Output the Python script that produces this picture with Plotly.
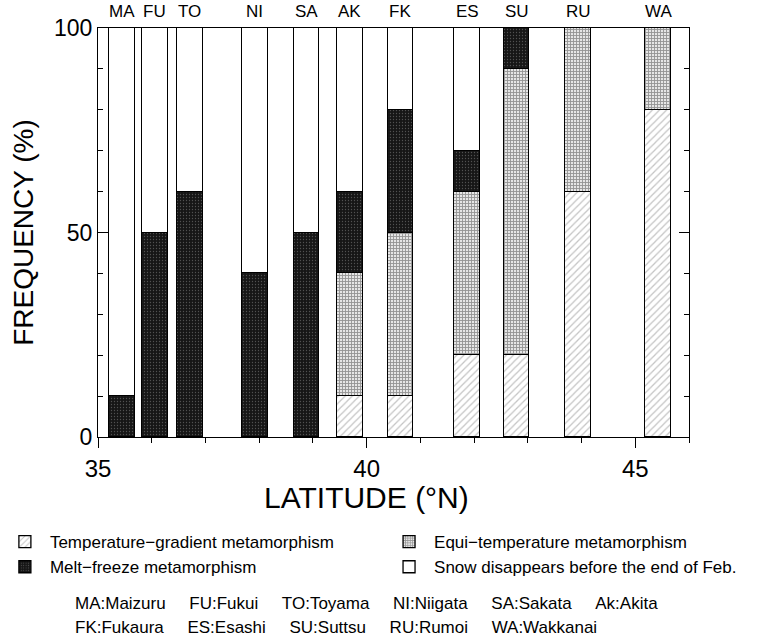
import plotly.graph_objects as go

# ---- data ----
stations = ["MA", "FU", "TO", "NI", "SA", "AK", "FK", "ES", "SU", "RU", "WA"]
latitude = [35.44, 36.06, 36.71, 37.92, 38.88, 39.69, 40.63, 41.87, 42.79, 43.94, 45.43]
temp_gradient = [0, 0, 0, 0, 0, 10, 10, 20, 20, 60, 80]
equi_temp = [0, 0, 0, 0, 0, 30, 40, 40, 70, 40, 20]
melt_freeze = [10, 50, 60, 40, 50, 20, 30, 10, 10, 0, 0]
snow_gone = [90, 50, 40, 60, 50, 40, 20, 30, 0, 0, 0]

series_names = [
    "Temperature\u2212gradient metamorphism",
    "Equi\u2212temperature metamorphism",
    "Melt\u2212freeze metamorphism",
    "Snow disappears before the end of Feb.",
]
legend_slot = ["legend", "legend2", "legend", "legend2"]
station_key_1 = ["MA:Maizuru", "FU:Fukui", "TO:Toyama", "NI:Niigata", "SA:Sakata", "Ak:Akita"]
station_key_2 = ["FK:Fukaura", "ES:Esashi", "SU:Suttsu", "RU:Rumoi", "WA:Wakkanai"]

FONT = "Liberation Sans, Arial, sans-serif"
BAR_W = 0.48

fig = go.Figure()

styles = [
    dict(color="white", pattern=dict(shape="/", fgcolor="#8a8a8a", bgcolor="white", size=5, solidity=0.25)),
    dict(color="white", pattern=dict(shape="+", fgcolor="#404040", bgcolor="#e6e6e6", size=3, solidity=0.5)),
    dict(color="#1c1c1c", pattern=dict(shape=".", fgcolor="#8c8c8c", bgcolor="#161616", size=3, solidity=0.15)),
    dict(color="white"),
]
for name, vals, st, lg in zip(series_names, [temp_gradient, equi_temp, melt_freeze, snow_gone],
                              styles, legend_slot):
    fig.add_trace(go.Bar(
        x=latitude, y=vals, width=BAR_W, name=name, legend=lg,
        marker=dict(line=dict(color="black", width=1.3), **st),
        hoverinfo="skip",
    ))

# station abbreviations above the bars
for lat, code in zip(latitude, stations):
    fig.add_annotation(
        x=lat, y=100, xref="x", yref="y", text=code, showarrow=False,
        yanchor="bottom", yshift=5, font=dict(family=FONT, size=17, color="black"),
    )

sp = "\u00a0" * 5
for line, ypos in [(station_key_1, -0.408), (station_key_2, -0.465)]:
    fig.add_annotation(
        xref="paper", yref="paper", x=-0.042, y=ypos, xanchor="left", yanchor="middle",
        text=sp.join(line), showarrow=False, align="left",
        font=dict(family=FONT, size=17, color="black"),
    )

# x-axis title
fig.add_annotation(
    xref="paper", yref="paper", x=0.455, y=-0.147, xanchor="center", yanchor="middle",
    text="LATITUDE (\u00b0N)", showarrow=False,
    font=dict(family=FONT, size=30, color="black"),
)

legend_common = dict(
    orientation="v", xref="paper", yref="paper", yanchor="top", y=-0.213,
    traceorder="normal", font=dict(family=FONT, size=17, color="black"),
    itemwidth=40, tracegroupgap=0, bgcolor="rgba(0,0,0,0)", xanchor="left",
)

fig.update_layout(
    width=762, height=638,
    margin=dict(l=98, r=73, t=28, b=201, autoexpand=False),
    plot_bgcolor="white", paper_bgcolor="white",
    barmode="stack", bargap=0,
    font=dict(family=FONT, color="black"),
    showlegend=True,
    legend=dict(x=-0.166, **legend_common),
    legend2=dict(x=0.484, **legend_common),
    xaxis=dict(
        range=[35, 46], showline=True, linecolor="black", linewidth=1.2, mirror=True,
        tickmode="array", tickvals=[35, 40, 45], ticks="outside", ticklen=10,
        tickcolor="black", tickwidth=1.2, automargin=False,
        minor=dict(tickmode="linear", tick0=35, dtick=1, ticks="outside", ticklen=5,
                   tickcolor="black", tickwidth=1),
        tickfont=dict(family=FONT, size=24), showgrid=False, zeroline=False,
    ),
    yaxis=dict(
        range=[0, 100], showline=True, linecolor="black", linewidth=1.2, mirror="ticks",
        tickvals=[0, 50, 100], ticks="inside", ticklen=10, tickcolor="black", tickwidth=1.2,
        automargin=False,
        minor=dict(tickmode="linear", tick0=0, dtick=10, ticks="inside", ticklen=5,
                   tickcolor="black", tickwidth=1),
        tickfont=dict(family=FONT, size=23), showgrid=False, zeroline=False,
        title=dict(text="FREQUENCY (%)", font=dict(family=FONT, size=28), standoff=12),
    ),
)

fig.write_html("out.html")
